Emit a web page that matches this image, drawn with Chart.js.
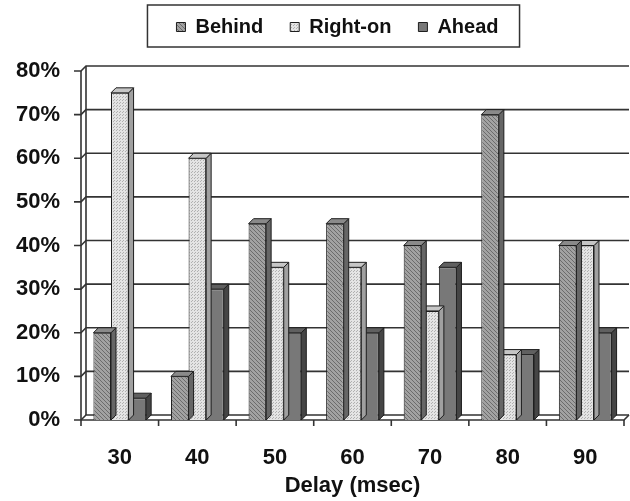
<!DOCTYPE html>
<html>
<head>
<meta charset="utf-8">
<script src="https://cdn.jsdelivr.net/npm/chart.js@4.4.1/dist/chart.umd.min.js"></script>
<style>
    html, body { margin: 0; padding: 0; background: #fff; }
    #wrap { width: 630px; height: 501px; }
</style>
</head>
<body>
<div id="wrap"><canvas id="chart" width="630" height="501"></canvas></div>
<script>
const delays = ['30', '40', '50', '60', '70', '80', '90'];
const behind = [20, 10, 45, 45, 40, 70, 40];
const rightOn = [75, 60, 35, 35, 25, 15, 40];
const ahead = [5, 30, 20, 20, 35, 15, 20];
const yMax = 80;
const yStep = 10;

const FONT = "'Liberation Sans', Arial, sans-serif";
const DEPTH = 5;

const canvas = document.getElementById('chart');
const ctx = canvas.getContext('2d');

// small tiles for the fill patterns
function makePattern(size, bg, ink, pixels) {
    const c = document.createElement('canvas');
    c.width = size;
    c.height = size;
    const g = c.getContext('2d');
    g.fillStyle = bg;
    g.fillRect(0, 0, size, size);
    g.fillStyle = ink;
    pixels.forEach(p => g.fillRect(p[0], p[1], 1, 1));
    return ctx.createPattern(c, 'repeat');
}

const hatchFill = makePattern(4, '#a2a2a2', '#6c6c6c', [[0, 0], [1, 1], [2, 2], [3, 3]]);
const dotFill = makePattern(3, '#e4e4e4', '#b0b0b0', [[0, 0], [2, 1]]);

// back wall, left wall, floor and ticks
const wallPlugin = {
    id: 'wall',
    beforeDatasetsDraw(chart) {
        const {ctx, chartArea: a, scales: {x, y}} = chart;
        const y0 = y.getPixelForValue(0);
        const yTop = y.getPixelForValue(yMax);
        const step = x.getPixelForValue(1) - x.getPixelForValue(0);

        ctx.save();
        ctx.strokeStyle = '#333';
        ctx.lineWidth = 1.6;

        function line(pts) {
            ctx.beginPath();
            ctx.moveTo(pts[0][0], pts[0][1]);
            for (let i = 1; i < pts.length; i++) ctx.lineTo(pts[i][0], pts[i][1]);
            ctx.stroke();
        }

        for (let v = 0; v <= yMax; v += yStep) {
            const py = y.getPixelForValue(v);
            line([[a.left - 7, py], [a.left, py], [a.left + DEPTH, py - DEPTH], [a.right + DEPTH, py - DEPTH]]);
        }
        line([[a.left, y0], [a.left, yTop]]);
        line([[a.left + DEPTH, y0 - DEPTH], [a.left + DEPTH, yTop - DEPTH]]);
        line([[a.left, y0], [a.right, y0], [a.right + DEPTH, y0 - DEPTH]]);

        for (let i = 0; i <= delays.length; i++) {
            const px = x.getPixelForValue(0) - step / 2 + i * step;
            line([[px, y0], [px, y0 + 6]]);
        }
        ctx.restore();
    }
};

// side and top faces of each bar
const bars3dPlugin = {
    id: 'bars3d',
    afterDatasetDraw(chart, args) {
        const ds = chart.data.datasets[args.index];
        const c = chart.ctx;
        c.save();
        c.lineWidth = 1;
        c.strokeStyle = '#1e1e1e';
        args.meta.data.forEach(bar => {
            const {x, y, base, width} = bar.getProps(['x', 'y', 'base', 'width'], true);
            const l = x - width / 2;
            const r = x + width / 2;

            c.fillStyle = ds.sideColor;
            c.beginPath();
            c.moveTo(r, y);
            c.lineTo(r + DEPTH, y - DEPTH);
            c.lineTo(r + DEPTH, base - DEPTH);
            c.lineTo(r, base);
            c.closePath();
            c.fill();
            c.stroke();

            c.fillStyle = ds.topColor;
            c.beginPath();
            c.moveTo(l, y);
            c.lineTo(l + DEPTH, y - DEPTH);
            c.lineTo(r + DEPTH, y - DEPTH);
            c.lineTo(r, y);
            c.closePath();
            c.fill();
            c.stroke();
        });
        c.restore();
    }
};

// frame around the legend
const legendBoxPlugin = {
    id: 'legendBox',
    afterDraw(chart) {
        const boxes = chart.legend.legendHitBoxes;
        if (!boxes || !boxes.length) return;
        const first = boxes[0];
        const last = boxes[boxes.length - 1];
        const c = chart.ctx;
        c.save();
        c.strokeStyle = '#333';
        c.lineWidth = 1.5;
        const left = first.left - 29;
        const top = first.top - 12;
        const bottom = first.top + first.height + 10;
        c.strokeRect(left, top, last.left + last.width + 21 - left, bottom - top);
        c.restore();
    }
};

new Chart(ctx, {
    type: 'bar',
    data: {
        labels: delays,
        datasets: [{
            label: 'Behind',
            data: behind,
            backgroundColor: hatchFill,
            sideColor: '#666',
            topColor: '#8a8a8a',
            borderColor: '#1e1e1e',
            borderWidth: 1
        }, {
            label: 'Right-on',
            data: rightOn,
            backgroundColor: dotFill,
            sideColor: '#a0a0a0',
            topColor: '#c6c6c6',
            borderColor: '#1e1e1e',
            borderWidth: 1
        }, {
            label: 'Ahead',
            data: ahead,
            backgroundColor: '#787878',
            sideColor: '#454545',
            topColor: '#606060',
            borderColor: '#1e1e1e',
            borderWidth: 1
        }]
    },
    options: {
        responsive: false,
        animation: false,
        devicePixelRatio: 1,
        layout: {padding: {left: 0, right: -45, top: -10, bottom: 0}},
        datasets: {bar: {categoryPercentage: 0.68, barPercentage: 1.0}},
        plugins: {
            legend: {
                position: 'top',
                labels: {
                    boxWidth: 9,
                    boxHeight: 9,
                    padding: 27,
                    color: '#111',
                    font: {family: FONT, size: 20, weight: 'bold'}
                }
            },
            tooltip: {enabled: false}
        },
        scales: {
            x: {
                position: 'bottom',
                grid: {display: false, drawTicks: false},
                border: {display: false},
                ticks: {color: '#111', padding: 25, font: {family: FONT, size: 22, weight: 'bold'}},
                title: {
                    display: true,
                    text: 'Delay (msec)',
                    color: '#111',
                    padding: {top: 0, bottom: 2},
                    font: {family: FONT, size: 22, weight: 'bold'}
                },
                afterFit: s => { s.height = 81; }
            },
            xTop: {
                type: 'category',
                position: 'top',
                grid: {display: false, drawTicks: false},
                border: {display: false},
                ticks: {display: false},
                afterFit: s => { s.height = 24; }
            },
            y: {
                min: 0,
                max: yMax,
                grid: {display: false, drawTicks: false},
                border: {display: false},
                ticks: {
                    stepSize: yStep,
                    padding: 21,
                    color: '#111',
                    font: {family: FONT, size: 22, weight: 'bold'},
                    callback: v => v + '%'
                },
                afterFit: s => { s.width = 81; }
            },
            yRight: {
                type: 'linear',
                position: 'right',
                grid: {display: false, drawTicks: false},
                border: {display: false},
                ticks: {display: false},
                afterFit: s => { s.width = 51; }
            }
        }
    },
    plugins: [wallPlugin, bars3dPlugin, legendBoxPlugin]
});
</script>
</body>
</html>
